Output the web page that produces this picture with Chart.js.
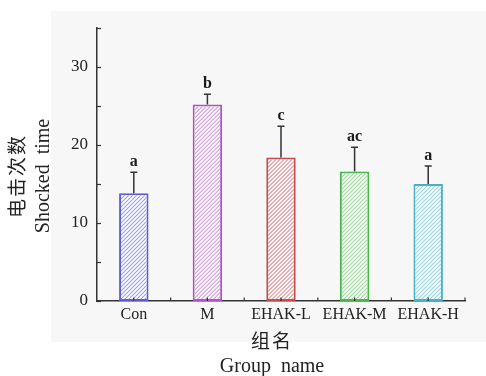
<!DOCTYPE html>
<html>
<head>
<meta charset="utf-8">
<script src="https://cdn.jsdelivr.net/npm/chart.js@4/dist/chart.umd.min.js"></script>
<style>
html,body{margin:0;padding:0;background:#fff;}
#wrap{width:486px;height:376px;}
</style>
</head>
<body>
<div id="wrap"><canvas id="c" width="486" height="376"></canvas></div>
<script>
const categories = ['Con', 'M', 'EHAK-L', 'EHAK-M', 'EHAK-H'];
const means = [13.8, 25.2, 18.4, 16.6, 15.0];
const errors = [2.7, 1.3, 4.0, 3.1, 2.3];
const letters = ['a', 'b', 'c', 'ac', 'a'];
const barColors = ['#5c5cd0', '#b054c4', '#c44c4c', '#4cb44c', '#44b2c6'];
const hatchColors = ['#9c9ce6', '#d39ae0', '#e19a9a', '#97d897', '#93d4e0'];
const yTickLabels = [0, 10, 20, 30];
const yTitle = ['电击次数', 'Shocked  time'];
const xTitle = ['组名', 'Group  name'];

const SERIF = '"Liberation Serif", "Times New Roman", serif';
const CJK = '"Noto Sans CJK SC", sans-serif';

const decor = {
  id: 'decor',
  beforeDraw(chart) {
    const ctx = chart.ctx;
    ctx.save();
    ctx.fillStyle = '#f7f7f7';
    ctx.fillRect(51, 11, 435, 331);
    ctx.restore();
  },
  afterDatasetsDraw(chart) {
    const ctx = chart.ctx;
    const x = chart.scales.x, y = chart.scales.y;
    const meta = chart.getDatasetMeta(0);
    meta.data.forEach((bar, i) => {
      const p = bar.getProps(['x', 'y', 'base', 'width'], true);
      const bw = 1.8;
      const l = p.x - p.width / 2 + bw, r = p.x + p.width / 2 - bw;
      const t = Math.min(p.y, p.base) + bw, b = Math.max(p.y, p.base) - bw;
      ctx.save();
      ctx.beginPath();
      ctx.rect(l, t, r - l, b - t);
      ctx.clip();
      ctx.strokeStyle = hatchColors[i];
      ctx.lineWidth = 1.1;
      const step = 4;
      const h = b - t;
      ctx.beginPath();
      for (let sx = l - h; sx < r + step; sx += step) {
        ctx.moveTo(sx, b);
        ctx.lineTo(sx + h, t);
      }
      ctx.stroke();
      ctx.restore();
    });
    ctx.save();
    ctx.strokeStyle = '#333333';
    ctx.lineWidth = 1.5;
    means.forEach((m, i) => {
      const cx = x.getPixelForValue(i);
      const y0 = y.getPixelForValue(m);
      const y1 = y.getPixelForValue(m + errors[i]);
      ctx.beginPath();
      ctx.moveTo(cx, y0); ctx.lineTo(cx, y1);
      ctx.moveTo(cx - 3.5, y1); ctx.lineTo(cx + 3.5, y1);
      ctx.stroke();
      ctx.fillStyle = '#1a1a1a';
      ctx.font = 'bold 16px ' + SERIF;
      ctx.textAlign = 'center';
      ctx.textBaseline = 'alphabetic';
      ctx.fillText(letters[i], cx, y1 - 6);
    });
    ctx.restore();
  },
  afterDraw(chart) {
    const ctx = chart.ctx;
    const x = chart.scales.x, y = chart.scales.y;
    const ca = chart.chartArea;
    ctx.save();
    ctx.strokeStyle = '#333333';
    ctx.lineWidth = 1.2;
    for (let v = 0; v <= 35; v += 5) {
      const py = Math.round(y.getPixelForValue(v)) + 0.5;
      ctx.beginPath();
      ctx.moveTo(ca.left, py); ctx.lineTo(ca.left + 4, py);
      ctx.stroke();
    }
    for (let i = 0; i < categories.length; i++) {
      const cx = x.getPixelForValue(i);
      const nx = x.getPixelForValue(i + 0.5);
      [cx, nx].forEach(px => {
        ctx.beginPath();
        ctx.moveTo(px, ca.bottom); ctx.lineTo(px, ca.bottom - 3.5);
        ctx.stroke();
      });
    }
    ctx.fillStyle = '#222222';
    ctx.textAlign = 'center';
    ctx.textBaseline = 'middle';
    ctx.save();
    ctx.translate(17, 176);
    ctx.rotate(-Math.PI / 2);
    ctx.font = '19px ' + CJK;
    ctx.letterSpacing = '2px';
    ctx.fillText(yTitle[0], 0, 0);
    ctx.restore();
    ctx.save();
    ctx.translate(44, 176);
    ctx.rotate(-Math.PI / 2);
    ctx.font = '20px ' + SERIF;
    ctx.fillText(yTitle[1], 0, 0);
    ctx.restore();
    ctx.font = '19px ' + CJK;
    ctx.letterSpacing = '2px';
    ctx.fillText(xTitle[0], 272, 341);
    ctx.letterSpacing = '0px';
    ctx.font = '20px ' + SERIF;
    ctx.fillText(xTitle[1], 272, 367);
    ctx.restore();
  }
};

new Chart(document.getElementById('c'), {
  type: 'bar',
  data: {
    labels: categories,
    datasets: [{
      data: means,
      backgroundColor: '#ffffff',
      borderColor: barColors,
      borderWidth: 2,
      borderSkipped: false,
      barPercentage: 0.4,
      categoryPercentage: 1.0
    }]
  },
  options: {
    responsive: false,
    animation: false,
    devicePixelRatio: 1,
    layout: { padding: { top: 28, right: 21, left: 0, bottom: 0 } },
    plugins: { legend: { display: false }, tooltip: { enabled: false } },
    scales: {
      x: {
        grid: { display: false, drawTicks: false },
        border: { display: true, color: '#333333', width: 1.5 },
        ticks: { color: '#222222', font: { family: SERIF, size: 16 }, padding: 4, maxRotation: 0, autoSkip: false },
        afterFit(s) { s.height = 75; }
      },
      y: {
        min: 0, max: 35,
        grid: { display: false, drawTicks: false },
        border: { display: true, color: '#333333', width: 1.5 },
        ticks: {
          stepSize: 10,
          color: '#222222',
          font: { family: SERIF, size: 17 },
          padding: 9,
          callback: v => yTickLabels.includes(v) ? String(v) : ''
        },
        afterFit(s) { s.width = 97; }
      }
    }
  },
  plugins: [decor]
});
</script>
</body>
</html>
